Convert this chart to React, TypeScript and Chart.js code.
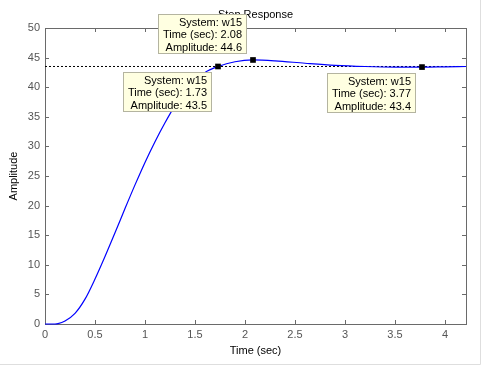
import React, { useEffect, useRef } from "react";
import { Chart, registerables } from "chart.js";

Chart.register(...registerables);

const timeValues = [0, 0.1, 0.13, 0.2, 0.3, 0.4, 0.5, 0.6, 0.7, 0.8, 0.9, 1.0, 1.1, 1.2, 1.3, 1.4, 1.5, 1.6, 1.73, 1.9, 2.08, 2.3, 2.6, 2.9, 3.2, 3.5, 3.77, 4.0, 4.21];
const amplitudeValues = [0, 0, 0.05, 0.5, 1.8, 4.2, 7.6, 11.4, 15.4, 19.5, 23.5, 27.3, 30.8, 34.0, 36.9, 39.2, 41.1, 42.5, 43.5, 44.3, 44.6, 44.45, 44.05, 43.7, 43.5, 43.4, 43.4, 43.45, 43.5];
const finalValue = 43.5;
const markerTimes = [1.73, 2.08, 3.77];
const markerAmplitudes = [43.5, 44.6, 43.4];
const systemName = "w15";
const chartTitle = "Step Response";
const xAxisTitle = "Time (sec)";
const yAxisTitle = "Amplitude";
const xRange = [0, 4.21];
const yRange = [0, 50];

const FONT = "'Liberation Sans', Arial, sans-serif";

const decorPlugin = {
  id: "decor",
  beforeDatasetsDraw(chart: any) {
    const { ctx, chartArea: a, scales } = chart;
    const xs = scales.x;
    const ys = scales.y;
    ctx.save();
    ctx.fillStyle = "#000";
    ctx.font = `11px ${FONT}`;
    ctx.textAlign = "center";
    ctx.textBaseline = "middle";
    ctx.fillText(chartTitle, (a.left + a.right) / 2, 15);
    // axes box
    ctx.strokeStyle = "#6a6a6a";
    ctx.lineWidth = 1;
    ctx.strokeRect(Math.round(a.left) + 0.5, Math.round(a.top) + 0.5, Math.round(a.right - a.left), Math.round(a.bottom - a.top));
    // inside ticks
    const tl = 4;
    ctx.beginPath();
    xs.ticks.forEach((t: any) => {
      const px = Math.round(xs.getPixelForValue(t.value)) + 0.5;
      ctx.moveTo(px, a.bottom);
      ctx.lineTo(px, a.bottom - tl);
      ctx.moveTo(px, a.top);
      ctx.lineTo(px, a.top + tl);
    });
    ys.ticks.forEach((t: any) => {
      const py = Math.round(ys.getPixelForValue(t.value)) + 0.5;
      ctx.moveTo(a.left, py);
      ctx.lineTo(a.left + tl, py);
      ctx.moveTo(a.right, py);
      ctx.lineTo(a.right - tl, py);
    });
    ctx.stroke();
    ctx.restore();
  },
  afterDatasetsDraw(chart: any) {
    const { ctx, scales } = chart;
    const xs = scales.x;
    const ys = scales.y;
    ctx.save();
    // data tip boxes
    const placements = ["below", "above", "below"];
    ctx.font = `11px ${FONT}`;
    markerTimes.forEach((t, i) => {
      const px = xs.getPixelForValue(t);
      const py = ys.getPixelForValue(markerAmplitudes[i]);
      const lines = [`System: ${systemName}`, `Time (sec): ${t}`, `Amplitude: ${markerAmplitudes[i]}`];
      const w = Math.max(...lines.map((l) => ctx.measureText(l).width)) + 10;
      const h = 40;
      const right = Math.round(px - 6);
      const top = placements[i] === "below" ? Math.round(py + 6) : Math.round(py - 6 - h);
      const left = right - Math.round(w);
      ctx.fillStyle = "#ffffe1";
      ctx.fillRect(left, top, right - left, h);
      ctx.strokeStyle = "#b4b4a0";
      ctx.strokeRect(left + 0.5, top + 0.5, right - left - 1, h - 1);
      ctx.fillStyle = "#000";
      ctx.textAlign = "right";
      ctx.textBaseline = "middle";
      lines.forEach((l, j) => ctx.fillText(l, right - 5, top + 8.5 + j * 12.5));
    });
    ctx.restore();
  },
  afterDraw(chart: any) {
    const { ctx, width, height } = chart;
    ctx.save();
    ctx.strokeStyle = "#dedede";
    ctx.lineWidth = 1;
    ctx.beginPath();
    ctx.moveTo(0, height - 2.5);
    ctx.lineTo(width - 2.5, height - 2.5);
    ctx.lineTo(width - 2.5, 0);
    ctx.stroke();
    ctx.restore();
  },
};

export default function App() {
  const ref = useRef<HTMLCanvasElement>(null);
  useEffect(() => {
    document.body.style.margin = "0";
    const canvas = ref.current;
    if (!canvas) return;
    const chart = new Chart(canvas, {
      type: "line",
      data: {
        datasets: [
          {
            label: "markers",
            data: markerTimes.map((t, i) => ({ x: t, y: markerAmplitudes[i] })),
            showLine: false,
            pointStyle: "rect",
            pointRadius: 4,
            pointBackgroundColor: "#000",
            pointBorderColor: "#000",
            pointBorderWidth: 0,
            order: 0,
          },
          {
            label: "response",
            data: timeValues.map((t, i) => ({ x: t, y: amplitudeValues[i] })),
            borderColor: "#0000ff",
            borderWidth: 1.2,
            pointRadius: 0,
            cubicInterpolationMode: "monotone",
            fill: false,
            clip: 2,
            order: 1,
          },
          {
            label: "final",
            data: [
              { x: xRange[0], y: finalValue },
              { x: xRange[1], y: finalValue },
            ],
            borderColor: "#000",
            borderWidth: 1,
            borderDash: [2, 2],
            pointRadius: 0,
            fill: false,
            order: 2,
          },
        ],
      },
      options: {
        responsive: false,
        animation: false,
        events: [],
        layout: { padding: { top: 28, right: 17, left: 0, bottom: 0 } },
        plugins: { legend: { display: false }, tooltip: { enabled: false }, title: { display: false } },
        scales: {
          x: {
            type: "linear",
            min: xRange[0],
            max: xRange[1],
            grid: { display: false, drawTicks: false },
            border: { display: false },
            ticks: {
              stepSize: 0.5,
              includeBounds: false,
              padding: 4,
              maxRotation: 0,
              autoSkip: false,
              color: "#555",
              font: { family: FONT, size: 11 },
              callback: (v: any) => String(v),
            },
            title: {
              display: true,
              text: xAxisTitle,
              color: "#000",
              font: { family: FONT, size: 11 },
              padding: { top: 0, bottom: 9 },
            },
            afterFit: (s: any) => {
              s.height = 43;
            },
          },
          y: {
            type: "linear",
            min: yRange[0],
            max: yRange[1],
            grid: { display: false, drawTicks: false },
            border: { display: false },
            ticks: {
              stepSize: 5,
              padding: 5,
              color: "#555",
              font: { family: FONT, size: 11 },
              callback: (v: any) => String(v),
            },
            title: {
              display: true,
              text: yAxisTitle,
              color: "#000",
              font: { family: FONT, size: 11 },
              padding: { top: 7, bottom: 0 },
            },
            afterFit: (s: any) => {
              s.width = 45;
            },
          },
        },
      },
      plugins: [decorPlugin],
    });
    return () => chart.destroy();
  }, []);
  return <canvas ref={ref} width={483} height={367} style={{ display: "block" }} />;
}
